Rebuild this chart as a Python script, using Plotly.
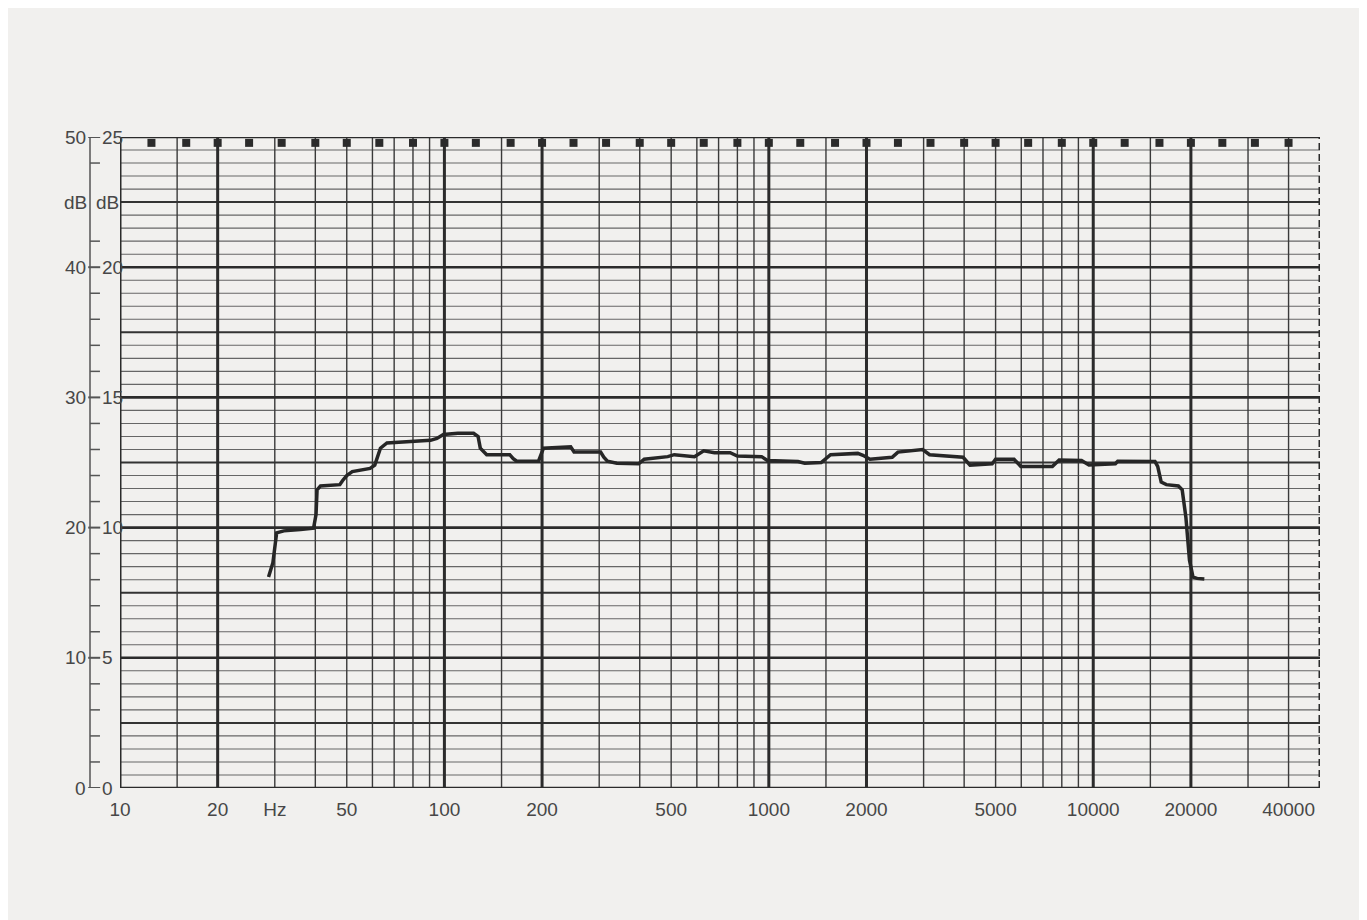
import plotly.graph_objects as go

# response curve (Hz, dB)
freq = [28.7, 29.6, 30.4, 32, 36, 39.5, 40.2, 40.5, 41.5, 47.6, 48.5, 50, 52, 59, 61, 62.5, 63.5, 66.5, 75,
        90.6, 94.8, 99.3, 110, 123, 127, 129, 135, 159, 163, 167, 195, 198, 202, 245, 251, 303, 310, 318,
        340, 397, 413, 488, 511, 590, 630, 680, 760, 800, 950, 990, 1230, 1290, 1450, 1550, 1880, 1950,
        2050, 2400, 2500, 2980, 3130, 3970, 4170, 4880, 5000, 5700, 5980, 7480, 7850, 9200, 9700, 11700,
        11900, 15500, 15800, 16200, 16800, 18300, 18800, 19300, 19800, 20300, 20900, 22000]
level = [16.2, 17.3, 19.6, 19.75, 19.85, 19.95, 21.0, 22.9, 23.2, 23.3, 23.6, 24.0, 24.3, 24.55, 24.8, 25.6,
         26.1, 26.5, 26.6, 26.7, 26.85, 27.15, 27.25, 27.25, 27.0, 26.1, 25.6, 25.6, 25.3, 25.1, 25.1, 25.6,
         26.1, 26.2, 25.8, 25.8, 25.4, 25.1, 24.95, 24.9, 25.25, 25.45, 25.6, 25.45, 25.9, 25.75, 25.75,
         25.5, 25.45, 25.15, 25.07, 24.95, 25.0, 25.6, 25.7, 25.55, 25.25, 25.4, 25.8, 26.0, 25.6, 25.4,
         24.8, 24.9, 25.25, 25.25, 24.7, 24.7, 25.2, 25.15, 24.8, 24.9, 25.1, 25.07, 24.7, 23.5, 23.3,
         23.2, 22.9, 20.8, 17.5, 16.2, 16.1, 16.05]

# chart paper
grid_thick = [10, 20, 100, 200, 1000, 2000, 10000, 20000]
grid_thin = [15, 30, 40, 50, 60, 70, 80, 90, 150, 300, 400, 500, 600, 700, 800, 900, 1500,
             3000, 4000, 5000, 6000, 7000, 8000, 9000, 15000, 30000, 40000]
third_octave = [12.5, 16, 20, 25, 31.5, 40, 50, 63, 80, 100, 125, 160, 200, 250, 315, 400, 500, 630, 800,
                1000, 1250, 1600, 2000, 2500, 3150, 4000, 5000, 6300, 8000, 10000, 12500, 16000, 20000,
                25000, 31500, 40000, 50000]
f_min, f_max = 10, 50000
db_major = [0, 10, 20, 30, 40, 50]
db_half = [5, 15, 25, 35, 45]
db_minor = [d for d in range(51) if d % 5 != 0]
x_tickvals = [10, 20, 30, 50, 100, 200, 500, 1000, 2000, 5000, 10000, 20000, 40000]
x_ticktext = ['10', '20', 'Hz', '50', '100', '200', '500', '1000', '2000', '5000', '10000', '20000', '40000']
left_labels = ['0', '10', '20', '30', '40', '50']
right_labels = ['0', '5', '10', '15', '20', '25']
ruler_ticks = [2, 4, 6, 8, 12, 14, 16, 18, 22, 24, 26, 28, 32, 34, 36, 38, 42, 48]

ink = '#2b2b2b'
paper = '#f1f0ee'
txt = '#474747'


def hlines(vals):
    xs, ys = [], []
    for v in vals:
        xs += [f_min, f_max, None]
        ys += [v, v, None]
    return xs, ys


def vlines(vals):
    xs, ys = [], []
    for v in vals:
        xs += [v, v, None]
        ys += [0, 50, None]
    return xs, ys


fig = go.Figure()
x, y = hlines(db_minor)
fig.add_trace(go.Scatter(x=x, y=y, mode='lines', line=dict(color='#666', width=1.1), hoverinfo='skip'))
x, y = vlines(grid_thin)
fig.add_trace(go.Scatter(x=x, y=y, mode='lines', line=dict(color='#3a3a3a', width=1.4), hoverinfo='skip'))
x, y = hlines(db_half)
fig.add_trace(go.Scatter(x=x, y=y, mode='lines', line=dict(color='#333', width=2), hoverinfo='skip'))
x, y = hlines(db_major)
fig.add_trace(go.Scatter(x=x, y=y, mode='lines', line=dict(color=ink, width=2.6), hoverinfo='skip'))
x, y = vlines(grid_thick)
fig.add_trace(go.Scatter(x=x, y=y, mode='lines', line=dict(color=ink, width=3), hoverinfo='skip'))
x, y = vlines([f_max])
fig.add_trace(go.Scatter(x=x, y=y, mode='lines', line=dict(color=ink, width=3, dash='7px,4px'),
                         hoverinfo='skip'))

# 1/3 octave markers along the top
fig.add_trace(go.Scatter(x=third_octave, y=[49.55] * len(third_octave), mode='markers',
                         marker=dict(symbol='square', size=8, color=ink), cliponaxis=False, hoverinfo='skip'))

fig.add_trace(go.Scatter(x=freq, y=level, mode='lines', line=dict(color='#262626', width=3.5)))

# left dB ruler
shapes = [dict(type='line', xref='paper', yref='y', x0=-0.025, x1=-0.025, y0=0, y1=50,
               line=dict(color='#555', width=1.5))]
for t in ruler_ticks:
    shapes.append(dict(type='line', xref='paper', yref='y', x0=-0.025, x1=-0.0167, y0=t, y1=t,
                       line=dict(color='#555', width=1.5)))
for d in db_major:
    shapes.append(dict(type='line', xref='paper', yref='y', x0=-0.0265, x1=-0.0165, y0=d, y1=d,
                       line=dict(color='#555', width=2)))

annotations = []
for d, a, b in zip(db_major, left_labels, right_labels):
    annotations.append(dict(x=-0.027, y=d, xref='paper', yref='y', text=a, showarrow=False,
                            xanchor='right', font=dict(size=19, color=txt)))
    annotations.append(dict(x=-0.0165, y=d, xref='paper', yref='y', text=b, showarrow=False,
                            xanchor='left', font=dict(size=19, color=txt)))
annotations.append(dict(x=-0.0255, y=45, xref='paper', yref='y', text='dB', showarrow=False,
                        xanchor='right', font=dict(size=19, color=txt)))
annotations.append(dict(x=-0.0215, y=45, xref='paper', yref='y', text='dB', showarrow=False,
                        xanchor='left', font=dict(size=19, color=txt)))

# page body has an 8px margin, so the figure is shifted by that much
fig.update_layout(
    width=1359, height=912,
    margin=dict(l=112, r=47, t=129, b=132),
    paper_bgcolor=paper, plot_bgcolor=paper,
    showlegend=False,
    font=dict(family='Liberation Sans, Arial, sans-serif', color=txt, size=19),
    shapes=shapes, annotations=annotations,
    xaxis=dict(type='log', range=[1, 4.69897], showgrid=False, zeroline=False, showline=False,
               tickvals=x_tickvals, ticktext=x_ticktext, ticks='outside', ticklen=4,
               tickcolor='rgba(0,0,0,0)'),
    yaxis=dict(range=[0, 50], showgrid=False, zeroline=False, showline=False, showticklabels=False),
)

fig.write_html("out.html")
